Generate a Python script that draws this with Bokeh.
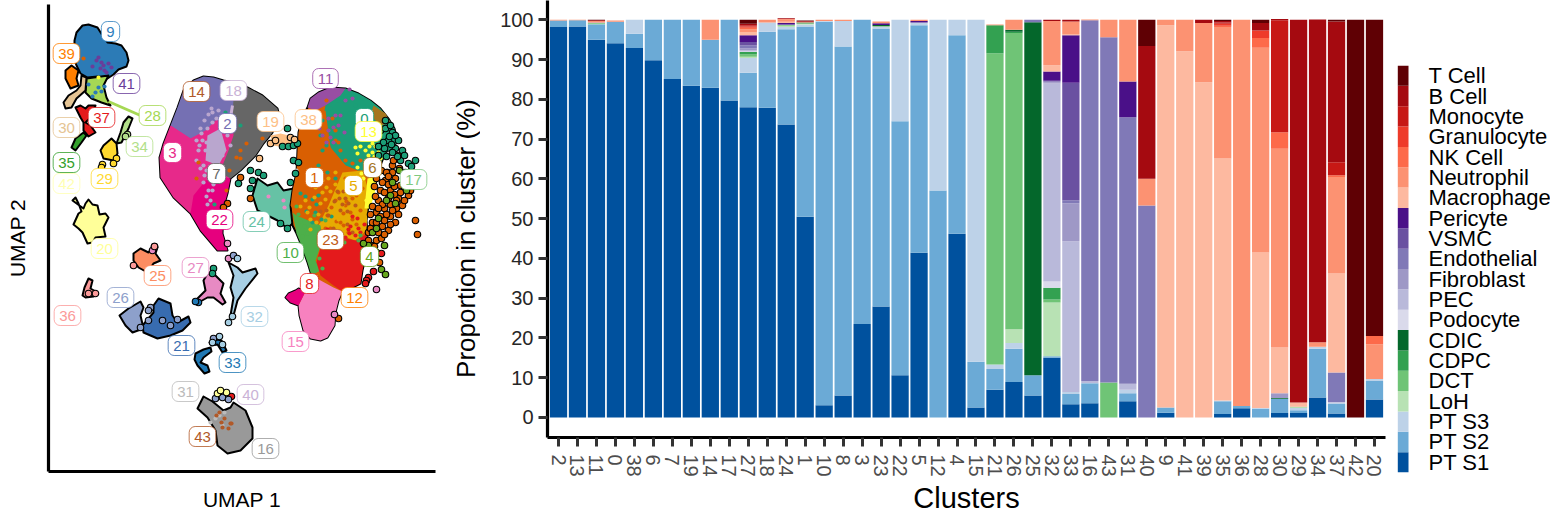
from bokeh.plotting import figure
from bokeh.layouts import row
from bokeh.models import Range1d, FactorRange, ColumnDataSource
from bokeh.core.properties import value
from bokeh.embed import file_html
from bokeh.resources import INLINE

FONT = "Liberation Sans"

# ---------- stacked bars ----------
clusters = ["2","13","11","0","38","6","7","19","14","17","27","18","24","1","10","8","3","23","22","5","12","4",
            "15","21","26","25","32","33","16","43","31","40","9","41","39","35","36","28","30","29","34","37","42","20"]
cell_types = ["PT S1","PT S2","PT S3","LoH","DCT","CDPC","CDIC","Podocyte","PEC","Fibroblast","Endothelial","VSMC",
              "Pericyte","Macrophage","Neutrophil","NK Cell","Granulocyte","Monocyte","B Cell","T Cell"]
cell_colors = ["#00519E","#6BAAD6","#BDD2E8","#B8E2B4","#6FC476","#33A151","#04672B","#DADAEB","#B9B9DA","#9E98C6",
               "#8079B7","#6A51A1","#4A1088","#FDB9A0","#FC9272","#FD6A4A","#EE3B2A","#C71815","#A50A10","#5F0004"]
pt_s1 = [98.2,98.3,95.0,94.1,92.9,89.8,85.1,83.4,82.9,79.7,78.0,77.9,73.7,50.5,3.1,5.5,23.5,27.9,10.6,41.4,0,46.2,2.5,7.0,8.9,5.5,15.0,3.3,3.6,0,4.1,0,1.2,0,0,0.9,2.3,0,1.1,1.1,5.0,1.0,0,4.5]
pt_s2 = [1.6,1.6,3.9,5.4,3.6,10.2,14.9,16.6,12.1,20.3,8.7,19.1,23.9,47.8,96.4,87.8,76.5,69.9,63.9,57.2,57.1,49.9,11.5,5.2,8.4,5.1,0.4,2.6,5.0,0,2.0,0,1.3,0,0,3.2,0.6,2.2,3.6,0.7,12.3,2.4,0,4.7]
pt_s3 = [0,0,0,0,3.5,0,0,0,0,0,3.7,2.3,0.6,0.5,0.2,6.4,0,0.4,25.5,0.7,42.9,3.9,86.0,1.1,1.4,0,0,0.5,0.1,0,0.9,0,0,0,0,0.2,0,0.2,0,0.6,0.4,0.3,0,0.5]
loh = [0,0,0.1,0,0,0,0,0,0,0,0.3,0,0.3,0.2,0,0,0,0.2,0,0,0,0,0,0,3.5,0,13.5,0,0,0,0,0,0,0,0,0,0,0,0,0.2,0,0,0,0]
dct = [0,0,0.2,0,0,0,0,0,0,0,0.6,0,0.2,0.1,0,0,0,0,0,0,0,0,0,78.3,74.5,0,0.8,0,0,8.8,0,0,0,0,0,0,0,0,0,0.1,0,0,0,0]
cdpc = [0,0,0,0,0,0,0,0,0,0,0.6,0,0,0,0,0,0,0,0,0,0,0,0,7.0,0.3,0,2.9,0,0,0,0,0,0,0,0,0,0,0,0,0,0,0,0,0]
cdic = [0,0,0,0,0,0,0,0,0,0,0,0,0,0.2,0,0,0,0.3,0,0,0,0,0,0,0.5,88.8,0,0,0,0,0,0,0,0,0,0,0,0,0.2,0,0,0,0,0]
podocyte = [0,0,0,0,0,0,0,0,0,0,0.1,0,0,0,0,0,0,0,0,0,0,0,0,0,0,0,1.6,0,0,0,0,0,0,0,0,0,0,0,0,0,0,0,0,0]
pec = [0,0,0,0,0,0,0,0,0,0,0.3,0,0,0,0,0,0,0,0,0,0,0,0,0,0,0,49.8,37.9,0.5,0,1.5,0,0,0,0,0,0,0,0,0,0,0.2,0,0]
fibroblast = [0,0,0.1,0,0,0,0,0,0,0,0.5,0,0,0,0,0,0,0,0,0,0,0,0,0,0,0,0.3,9.6,0,0,0,0,0,0,0,0,0,0,1.2,0,0,0,0,0]
endothelial = [0,0,0,0,0,0,0,0,0,0,0.8,0,0.1,0,0,0,0,0,0,0,0,0,0,0,0,0.6,0.2,0.7,90.7,86.8,67.0,53.3,0,0,0,0,0,0,0,0,0,7.4,0,0]
vsmc = [0,0,0,0,0,0,0,0,0,0,0.8,0,0,0,0,0,0,0,0,0,0,0,0,0,0,0,0.2,29.6,0,0,0,0,0,0,0,0,0,0,0,0,0,0,0,0]
pericyte = [0,0,0,0,0,0,0,0,0,0,1.7,0,0.4,0,0,0,0,0.4,0,0.4,0,0,0,0,0,0,2.3,11.9,0,0,9.0,0,0,0,0,0,0,0,0,0,0,0,0,0]
macrophage = [0,0,0,0,0,0,0,0,0,0,0.8,0,0.3,0,0,0,0,0,0,0,0,0,0,0,0,0,1.6,0.2,0,0,0,0,96.1,92.1,84.3,60.8,0,39.1,11.5,1.1,0.1,24.9,0,0]
neutrophil = [0.2,0.1,0.4,0.3,0,0,0,0,5.0,0,0.7,0.7,0.6,0.2,0.3,0.3,0,0.5,0,0.3,0,0,0,0.2,2.5,0,11.1,3.3,0.2,4.4,15.5,6.7,1.4,7.9,14.9,33.1,97.1,51.5,50.0,0,1.1,24.3,0,8.7]
nk_cell = [0,0,0,0,0,0,0,0,0,0,0.4,0,0.1,0,0,0,0,0,0,0,0,0,0,0,0,0,0,0,0,0,0,0,0,0,0,0.3,0,2.4,4.1,0,0,0.4,0,2.1]
granulocyte = [0,0,0,0,0,0,0,0,0,0,0.3,0,0,0,0,0,0,0,0,0,0,0,0,0,0,0,0,0,0,0,0,0,0,0,0,0.5,0,1.9,0,0,0,0,0,0]
monocyte = [0,0,0,0,0,0,0,0,0,0,0.3,0,0,0,0,0,0,0,0,0,0,0,0,0,0,0,0,0,0,0,0,0,0,0,0,0.3,0,0,28.2,0,0,3.3,0,0]
b_cell = [0,0,0.2,0,0,0,0,0,0,0,0.4,0,0.2,0.2,0,0,0,0,0,0,0,0,0,0,0,0,0.3,0.4,0,0,0,33.4,0,0,0.8,0.4,0,1.9,0.3,96.2,81.2,35.4,0,0]
t_cell = [0,0,0.1,0,0,0,0,0,0,0,1.0,0,0,0.1,0,0,0,0,0,0,0,0,0,0,0,0,0,0,0,0,0,6.6,0,0,0,0.3,0,0.8,0,0,0,0.4,100,79.5]
y_ticks = [0,10,20,30,40,50,60,70,80,90,100]

# ---------- UMAP clusters, outlines in UMAP plot units ----------
blob_9_x = [74,76,82,88,97,102,107,115,121,126,128,126,118,113,107,97,87,80,76,73,74]
blob_9_y = [40,32,25,24,27,35,42,43,45,52,60,66,69,74,78,76,77,73,65,57,50]
blob_39_x = [65,71,78,76,78,70,65]
blob_39_y = [70,65,70,78,85,88,78]
blob_28_x = [86,108,103,106,110,101,91,85]
blob_28_y = [78,75,85,97,105,102,98,92]
blob_30_x = [81,86,85,76,71,65,63,68,76,80]
blob_30_y = [75,77,90,98,107,108,102,95,90,85]
blob_37_x = [75,80,85,88,95,90,85,90,95,88,83,83,80]
blob_37_y = [107,105,108,105,105,117,122,125,132,136,130,122,117]
blob_35_x = [83,86,81,75,71,75]
blob_35_y = [132,135,142,150,147,138]
blob_34_x = [128,132,128,121,116,120,123]
blob_34_y = [116,118,128,142,143,132,122]
blob_29_x = [103,111,116,117,113,103,100]
blob_29_y = [145,138,143,153,160,158,150]
blob_20_x = [72,75,78,81,78,73,78,82,87,92,95,105,103,108,105,99,97,92,88,85,83]
blob_20_y = [200,197,203,211,213,224,228,232,243,242,237,236,227,217,213,214,205,204,199,203,208]
blob_25_x = [133,140,148,153,157,155,160,153,147,138,133]
blob_25_y = [253,248,252,245,247,253,260,263,272,267,260]
blob_36_x = [88,92,90,97,93,85,82,84]
blob_36_y = [278,280,288,292,296,297,295,287]
blob_26_x = [140,143,140,143,132,125,119,128]
blob_26_y = [301,307,315,328,332,325,315,308]
blob_21_x = [158,170,172,177,188,190,182,170,157,143,142,148,153,153]
blob_21_y = [298,303,315,322,316,322,330,335,338,332,325,318,312,305]
blob_33a_x = [195,203,210,211,203,200,207,209,204,197,194]
blob_33a_y = [353,349,347,351,357,362,365,371,373,365,359]
blob_33b_x = [209,217,221,226,222,217,211]
blob_33b_y = [342,339,340,350,352,344,345]
blob_27_x = [207,213,223,220,225,222,213,207,198,197,205,203]
blob_27_y = [273,273,283,293,302,304,297,297,302,298,290,280]
blob_32_x = [228,237,242,255,257,245,237,233,230,233,230,233]
blob_32_y = [262,267,272,268,273,288,300,315,315,297,287,275]
blob_16_x = [203,212,223,230,233,245,252,252,240,227,217,215,207,197]
blob_16_y = [396,401,410,407,402,410,427,438,450,453,445,430,417,408]
blob_24_x = [257,267,277,283,293,297,293,287,277,267,257,252]
blob_24_y = [178,185,182,190,188,195,222,228,220,215,210,195]
mid_outline_x = [183,193,203,213,223,233,247,262,277,278,272,263,255,240,230,227,223,222,227,217,200,190,173,160,159,163,170,177]
mid_outline_y = [90,80,76,77,80,82,87,95,108,112,132,143,155,170,178,193,207,233,250,250,230,213,197,177,157,143,125,107]
right_outline_x = [307,310,318,330,345,358,370,380,388,394,397,393,385,380,377,372,368,366,367,366,362,360,352,342,338,335,334,327,320,310,303,299,298,290,285,288,295,298,305,311,307,301,296,292,290,292,296,297,298,301]
right_outline_y = [107,98,92,87,88,93,100,108,118,128,140,147,152,165,178,190,205,220,233,253,270,283,287,291,300,312,325,337,340,338,330,315,305,302,297,293,290,288,291,275,262,245,233,225,205,190,172,150,132,118]

# regions inside the two big islands
reg_2_x = [183,193,203,213,223,233,236,232,215,205,190,170,177]
reg_2_y = [90,80,76,77,80,82,84,115,120,130,138,125,107]
reg_7_x = [234,247,262,277,278,272,263,255,240,230,225,222,228,233,232]
reg_7_y = [82,87,95,108,112,132,143,155,170,178,175,165,150,135,115]
reg_3_x = [170,190,207,222,205,200,190,173,160,159,163]
reg_3_y = [125,138,131,160,175,190,213,197,177,157,143]
reg_22_x = [190,193,205,225,230,227,223,222,227,217,200]
reg_22_y = [213,195,180,177,178,193,207,233,250,250,230]
reg_18_x = [207,220,226,218,205]
reg_18_y = [135,128,150,165,160]
reg_11_x = [310,318,330,345,350,340,325,315,307]
reg_11_y = [98,92,87,88,92,103,105,110,107]
reg_0_x = [325,340,345,358,370,380,388,394,397,393,385,377,357,345,330,323]
reg_0_y = [105,95,88,93,100,108,118,128,140,147,152,170,170,165,147,115]
reg_6_x = [373,385,390,380,370]
reg_6_y = [105,113,122,125,115]
reg_1_x = [301,325,330,345,357,340,330,320,296,290,292,296,297,298]
reg_1_y = [118,110,147,165,170,190,205,225,215,205,190,172,150,132]
reg_5_x = [342,362,368,366,355,340,325,318,328]
reg_5_y = [172,170,190,230,240,235,235,225,205]
reg_13_x = [367,376,374,369,364]
reg_13_y = [178,176,195,208,208]
reg_10_x = [292,296,320,322,315,320,311,307,301,296]
reg_10_y = [212,215,225,240,260,270,275,262,245,233]
reg_8_x = [322,340,355,367,366,362,360,352,342,333,320,316]
reg_8_y = [240,237,240,233,253,270,283,287,291,285,275,262]
reg_15_x = [311,333,342,338,335,334,327,320,310,303,299,298,305]
reg_15_y = [275,287,291,300,312,325,337,340,338,330,315,305,291]
reg_15b_x = [285,288,295,298,305,298,290]
reg_15b_y = [297,293,290,288,291,305,302]
reg_19_x = [270,280,297,295,285,272]
reg_19_y = [135,133,137,142,147,145]

# speckles (no outline)
dots_18_x = [208,204,212,216,207,201,199,211,205,218,214,220,224,226,209,213,206,210,207,212,203,219,222,204,216,202,198,206,212,196,200,227,230,203,208,215,222,196,200,206]
dots_18_y = [114,120,112,118,128,133,145,108,150,110,172,130,118,126,178,184,196,200,204,190,165,140,155,175,168,140,150,142,122,160,168,135,145,182,190,178,172,140,128,170]
dots_41_x = [98,101,108,106,111,103,100,104,96,92]
dots_41_y = [57,62,63,72,67,65,68,70,60,66]
dots_9b_x = [95,101,88,92,104,98]
dots_9b_y = [92,91,84,96,86,87]
dots_orange_x = [83,240,246,262,270,236,196,226,198,240,260,229,338,312,320,336,318,331,346,352,343,327,334,312,321,343,304,325,345,350,338,352,360,345,356,350,340,330,332,335,335,340,345,352,360,326,348,356,362,335]
dots_orange_y = [58,158,143,138,143,157,178,190,162,150,125,170,142,198,213,221,221,207,201,219,225,215,186,203,189,213,209,228,178,185,192,198,210,205,195,212,222,228,118,130,140,150,160,163,160,100,232,224,188,200]
dots_teal_x = [305,312,318,316,349,337,345,330,355,362,225,232,218,240,260,214,315,321,331,300,306,312,322,320,322,318,327,335,318,326]
dots_teal_y = [196,199,195,204,113,100,96,108,105,98,112,128,181,125,128,204,212,219,216,193,211,222,120,135,150,165,172,178,125,145]
dots_purple_x = [335,330,328,352,345,340,333,322,333,319,328,349,338,344,326]
dots_purple_y = [115,137,130,98,100,115,127,135,142,128,118,89,125,132,142]
dots_yellow_x = [360,355,357,357,372,378,393,363,366,358,98,361,369,375,372,375,378,368,374,365,380]
dots_yellow_y = [146,147,153,167,152,148,152,178,200,183,77,173,146,160,143,146,152,155,156,150,158]
dots_gold_x = [325,330,335,320,314,309,307,326,332,338,347,342,310,316,355,340,322,328,315,305,335,300,318,310,326,330,336,322]
dots_gold_y = [199,191,184,203,197,207,212,187,212,219,181,205,219,222,181,227,192,178,187,200,172,206,214,229,222,231,196,180]
dots_brown_x = [345,342,350,337,340,347,334,328,355,347,320,352,344,333,326,339,343,348]
dots_brown_y = [198,204,194,191,210,211,201,215,205,224,211,232,238,228,210,198,191,203]
dots_red_x = [358,355,349,345,352,327,333,360,364,357,350,288,340,336,348]
dots_red_y = [228,235,233,237,216,229,234,232,224,218,226,252,233,237,229]
dots_green_x = [307,313,322,300,304,314,310,319,302,315,360,314,358,344,320,325,298,296]
dots_green_y = [233,241,268,221,226,215,262,258,236,228,235,277,240,242,232,220,214,206]
dots_grey_x = [296,219,215,222,213,224,210]
dots_grey_y = [170,415,418,425,430,412,422]
dots_brown_b_x = [224,221,228,230,219,222,231,216]
dots_brown_b_y = [418,422,428,423,412,427,423,415]
dots_misc_pink_x = [268,283,284]
dots_misc_pink_y = [196,200,207]

# individually outlined points
ring_orange_x = [392,398,385,395,405,380,390,400,410,378,388,398,408,384,396,376,390,402,372,382,368,376,388,395,404,371,381,372,415,417,240,250,227,223,379,338,374,381,387,392,399,376,382,388,394,400,406,412,374,384,394,404,410,375,382,390,396,372,378,386,380,392,398,370,376,384,390,370,378,384,374,368,386,393,388,416]
ring_orange_y = [165,155,180,178,172,190,190,185,178,200,198,198,195,208,208,212,216,205,222,226,232,240,230,222,186,245,238,252,220,234,177,198,203,207,262,318,170,170,172,172,168,178,182,184,186,192,180,184,186,192,194,200,190,196,204,204,200,206,208,214,216,210,214,214,222,220,224,228,232,234,246,240,172,160,176,183]
ring_teal_x = [398,402,395,400,408,415,250,258,252,250,238,293,298,295,290,287,280,282,288,293,297,287,385,392,380,213,212,375,388,263,378,384,385,390,395,389,383,378,391,397,386,392,404,411]
ring_teal_y = [140,150,148,160,163,160,170,172,180,188,183,160,162,173,182,228,223,146,146,145,143,128,120,132,130,268,273,135,140,175,155,148,128,125,135,136,142,146,144,156,156,152,155,166]
ring_green_x = [395,378,372,406,390,381,385,368,399,363,376,376,372,384,386,392]
ring_green_y = [203,218,232,190,195,269,274,245,170,243,228,252,258,245,200,182]
ring_peach_x = [259,270,275,290,294]
ring_peach_y = [158,143,140,137,139]
ring_red_x = [381,373,368,366,365,231]
ring_red_y = [253,271,277,280,283,396]
ring_pink_x = [376,334,227,228,154,152]
ring_pink_y = [289,314,243,258,246,250]
ring_peri_x = [150,148,148,140,177,215,222,228,213,170,233,162]
ring_peri_y = [307,310,320,327,319,398,397,399,338,325,255,320]
ring_sky_x = [232,228,212,219,222,237]
ring_sky_y = [316,322,342,336,344,258]
ring_blue_x = [198,195]
ring_blue_y = [302,301]
ring_yellow_x = [217,226,220]
ring_yellow_y = [393,392,390]
ring_salmon_x = [95,88,154,133]
ring_salmon_y = [293,293,246,265]
ring_gold_x = [116,113,102,101]
ring_gold_y = [158,163,164,167]
ring_olive_x = [127,125]
ring_olive_y = [134,136]

leader_28_x = [108,140]
leader_28_y = [101,115]
leader_18_x = [232,230]
leader_18_y = [105,117]

label_names = ["9","39","41","28","37","30","34","35","29","42","20","14","18","2","3","7","22","24","19","38","11","0","13","6","17","1","5","23","10","4","8","12","15","25","27","36","26","32","21","33","31","40","43","16"]
label_x = [110,66,126,152,101,66,139,66,104,66,104,196,233,227,172,216,219,256,270,308,325,364,368,372,413,314,353,330,290,369,309,354,295,157,195,67,120,254,181,232,185,250,202,265]
label_y = [31,53,83,115,117,127,146,162,178,183,248,91,90,123,152,173,219,221,121,119,78,118,131,167,179,177,185,239,252,256,283,297,341,275,267,315,297,316,345,362,391,394,436,448]
label_colors = ["#2F80BE","#FF7F00","#6A3D9A","#A6D854","#E41A1C","#E5C494","#B2DF8A","#33A02C","#FFD92F","#FFFFB3","#FFFF99","#B15928","#CAB2D6","#7570B3","#E7298A","#666666","#E6007E","#66C2A5","#FDC086","#FDC086","#984EA3","#1B9E77","#FFFF33","#A6761D","#7FC97F","#D95F02","#E6AB02","#BF5B17","#4DAF4A","#66A61E","#E41A1C","#FF7F00","#F781BF","#FC8D62","#E78AC3","#FB9A99","#8DA0CB","#A6CEE3","#386CB0","#1F78B4","#BBBBBB","#CAB2D6","#B15928","#999999"]

# ---------- UMAP panel ----------
p1 = figure(width=450, height=516, output_backend="svg", toolbar_location=None, frame_align=False,
            x_range=Range1d(48, 435), y_range=Range1d(471, 4),
            min_border_left=48, min_border_right=15, min_border_top=4, min_border_bottom=45)
p1.grid.visible = False
p1.outline_line_color = None
for ax, txt in ((p1.xaxis[0], "UMAP 1"), (p1.yaxis[0], "UMAP 2")):
    ax.ticker = []
    ax.axis_line_color = "black"
    ax.axis_line_width = 3.2
    ax.axis_label = txt
    ax.axis_label_text_font = FONT
    ax.axis_label_text_font_size = "21px"
    ax.axis_label_text_font_style = "normal"
    ax.axis_label_text_color = "black"
p1.xaxis[0].axis_label_standoff = 16
p1.yaxis[0].axis_label_standoff = 20

OUT = dict(line_color="black", line_width=2, line_join="round")
for xs, ys, col in [(blob_9_x, blob_9_y, "#2C7BB6"), (blob_39_x, blob_39_y, "#FF7F00"), (blob_28_x, blob_28_y, "#A6D854"),
                    (blob_30_x, blob_30_y, "#E5C494"), (blob_37_x, blob_37_y, "#E41A1C"), (blob_35_x, blob_35_y, "#33A02C"),
                    (blob_34_x, blob_34_y, "#B2DF8A"), (blob_29_x, blob_29_y, "#FFD92F"), (blob_20_x, blob_20_y, "#FFFF99"),
                    (blob_25_x, blob_25_y, "#FC8D62"), (blob_36_x, blob_36_y, "#FB9A99"), (blob_26_x, blob_26_y, "#8DA0CB"),
                    (blob_21_x, blob_21_y, "#386CB0"), (blob_33a_x, blob_33a_y, "#1F78B4"), (blob_33b_x, blob_33b_y, "#1F78B4"),
                    (blob_27_x, blob_27_y, "#E78AC3"), (blob_32_x, blob_32_y, "#A6CEE3"), (blob_16_x, blob_16_y, "#999999"),
                    (blob_24_x, blob_24_y, "#66C2A5"), (mid_outline_x, mid_outline_y, "#E7298A"),
                    (right_outline_x, right_outline_y, "#D95F02")]:
    p1.patch(xs, ys, fill_color=col, **OUT)
for xs, ys, col in [(reg_2_x, reg_2_y, "#7570B3"), (reg_7_x, reg_7_y, "#666666"), (reg_3_x, reg_3_y, "#E7298A"),
                    (reg_22_x, reg_22_y, "#E6007E"), (reg_18_x, reg_18_y, "#B9A6CE"), (reg_11_x, reg_11_y, "#984EA3"),
                    (reg_0_x, reg_0_y, "#1B9E77"), (reg_6_x, reg_6_y, "#A6761D"), (reg_1_x, reg_1_y, "#D95F02"),
                    (reg_5_x, reg_5_y, "#E6AB02"), (reg_13_x, reg_13_y, "#FFFF33"), (reg_10_x, reg_10_y, "#4DAF4A"),
                    (reg_8_x, reg_8_y, "#E41A1C"), (reg_15_x, reg_15_y, "#F781BF"), (reg_15b_x, reg_15b_y, "#E6007E"),
                    (reg_19_x, reg_19_y, "#FDC086")]:
    p1.patch(xs, ys, fill_color=col, line_color=None)
for xs, ys, col in [(dots_18_x, dots_18_y, "#B9A6CE"), (dots_41_x, dots_41_y, "#6A3D9A"), (dots_9b_x, dots_9b_y, "#2C7BB6"),
                    (dots_orange_x, dots_orange_y, "#D95F02"), (dots_teal_x, dots_teal_y, "#1B9E77"),
                    (dots_purple_x, dots_purple_y, "#984EA3"), (dots_yellow_x, dots_yellow_y, "#FFFF33"),
                    (dots_gold_x, dots_gold_y, "#E6AB02"), (dots_brown_x, dots_brown_y, "#BF5B17"),
                    (dots_red_x, dots_red_y, "#E41A1C"), (dots_green_x, dots_green_y, "#4DAF4A"),
                    (dots_grey_x, dots_grey_y, "#BBBBBB"), (dots_brown_b_x, dots_brown_b_y, "#B15928"),
                    (dots_misc_pink_x, dots_misc_pink_y, "#E78AC3")]:
    p1.scatter(xs, ys, size=4.2, fill_color=col, line_color=None)
for xs, ys, col in [(ring_orange_x, ring_orange_y, "#D95F02"), (ring_teal_x, ring_teal_y, "#1B9E77"),
                    (ring_green_x, ring_green_y, "#66A61E"), (ring_peach_x, ring_peach_y, "#FDC086"),
                    (ring_red_x, ring_red_y, "#E41A1C"), (ring_pink_x, ring_pink_y, "#E78AC3"),
                    (ring_peri_x, ring_peri_y, "#8DA0CB"), (ring_sky_x, ring_sky_y, "#A6CEE3"),
                    (ring_blue_x, ring_blue_y, "#1F78B4"), (ring_yellow_x, ring_yellow_y, "#FFFF99"),
                    (ring_salmon_x, ring_salmon_y, "#FB9A99"), (ring_gold_x, ring_gold_y, "#FFD92F"),
                    (ring_olive_x, ring_olive_y, "#B2DF8A")]:
    p1.scatter(xs, ys, size=6.5, fill_color=col, line_color="black", line_width=1.1)
p1.line(leader_28_x, leader_28_y, line_color="#A6D854", line_width=3)
p1.line(leader_18_x, leader_18_y, line_color="#CAB2D6", line_width=3)
p1.text(x=label_x, y=label_y, text=label_names, text_color=label_colors,
        text_font=value(FONT), text_font_size="15px", text_align="center", text_baseline="middle",
        background_fill_color="white", border_line_color=label_colors, border_line_width=0.8,
        padding=(5, 5), border_radius=6)

# ---------- y title of the bar panel ----------
p_title = figure(width=30, height=516, output_backend="svg", toolbar_location=None, frame_align=False,
                 x_range=Range1d(0, 30), y_range=Range1d(516, 0),
                 min_border_left=0, min_border_right=0, min_border_top=0, min_border_bottom=0)
p_title.axis.visible = False
p_title.grid.visible = False
p_title.outline_line_color = None
p_title.text(x=[15], y=[238], text=["Proportion in cluster (%)"], angle=90, angle_units="deg",
             text_font=value(FONT), text_font_size="26px", text_color="black",
             text_align="center", text_baseline="middle")

# ---------- stacked bar panel ----------
src = ColumnDataSource(dict(cluster=clusters, **{"PT S1": pt_s1, "PT S2": pt_s2, "PT S3": pt_s3, "LoH": loh, "DCT": dct,
    "CDPC": cdpc, "CDIC": cdic, "Podocyte": podocyte, "PEC": pec, "Fibroblast": fibroblast, "Endothelial": endothelial,
    "VSMC": vsmc, "Pericyte": pericyte, "Macrophage": macrophage, "Neutrophil": neutrophil, "NK Cell": nk_cell,
    "Granulocyte": granulocyte, "Monocyte": monocyte, "B Cell": b_cell, "T Cell": t_cell}))
p2 = figure(width=910, height=516, output_backend="svg", toolbar_location=None, frame_align=False,
            x_range=FactorRange(factors=clusters, range_padding=0.08, range_padding_units="absolute"),
            y_range=Range1d(-5.03, 104.85),
            min_border_left=67, min_border_right=5, min_border_top=0, min_border_bottom=79)
p2.vbar_stack(cell_types, x="cluster", width=0.91, color=cell_colors, source=src, line_color=None)
p2.grid.visible = False
p2.outline_line_color = None
p2.x_range.factor_padding = 0
for ax in (p2.xaxis[0], p2.yaxis[0]):
    ax.axis_line_color = "black"
    ax.axis_line_width = 3.2
    ax.major_tick_line_color = "#333333"
    ax.major_tick_line_width = 3
    ax.major_tick_in = 0
    ax.major_tick_out = 9
    ax.minor_tick_line_color = None
    ax.major_label_text_font = FONT
    ax.major_label_text_font_size = "20px"
    ax.major_label_text_color = "#4D4D4D"
    ax.axis_label_text_font = FONT
    ax.axis_label_text_font_style = "normal"
    ax.axis_label_text_color = "black"
p2.yaxis[0].ticker = y_ticks
p2.yaxis[0].major_label_text_color = "#262626"
p2.xaxis[0].axis_label = "Clusters"
p2.xaxis[0].axis_label_text_font_size = "29px"
p2.xaxis[0].axis_label_standoff = 2
p2.xaxis[0].major_label_orientation = "vertical"
p2.xaxis[0].major_label_standoff = 8

# ---------- legend panel ----------
legend_names = cell_types
p3 = figure(width=160, height=516, output_backend="svg", toolbar_location=None, frame_align=False,
            x_range=Range1d(0, 160), y_range=FactorRange(factors=legend_names),
            min_border_left=0, min_border_right=0, min_border_top=65, min_border_bottom=44)
p3.y_range.range_padding = 0
p3.y_range.factor_padding = 0
p3.axis.visible = False
p3.grid.visible = False
p3.outline_line_color = None
p3.hbar(y=legend_names, left=7.3, right=18, height=1, fill_color=cell_colors, line_color=None)
p3.text(x=38, y=legend_names, text=legend_names, text_font=value(FONT), text_font_size="22px",
        text_color="black", text_baseline="middle", text_align="left")

open("out.html", "w").write(file_html(row(p1, p_title, p2, p3, spacing=0), INLINE))
